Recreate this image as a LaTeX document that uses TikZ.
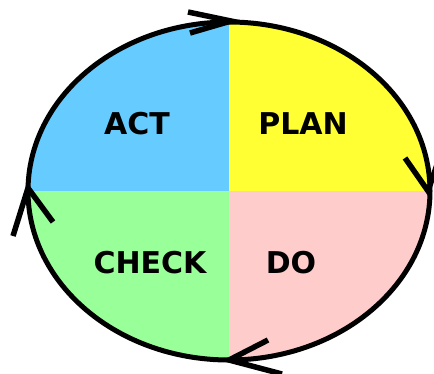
\documentclass[tikz,border=0pt]{standalone}
\usepackage{fontspec}
\setmainfont{DejaVu Sans}
\definecolor{actblue}{HTML}{66CCFF}
\definecolor{planyellow}{HTML}{FFFF33}
\definecolor{checkgreen}{HTML}{99FF99}
\definecolor{dopink}{HTML}{FFCCCC}
\begin{document}
\begin{tikzpicture}[x=1pt,y=-1pt,
  lbl/.style={font=\fontsize{30}{30}\selectfont\bfseries, inner sep=0pt},
  ring/.style={line width=5pt},
  chev/.style={line width=5.5pt, line join=miter, line cap=butt}]
\useasboundingbox (0,0) rectangle (434,373);
\clip (0,0) rectangle (434,373);
\coordinate (c) at (229,191);
\begin{scope}
  \clip (c) ellipse [x radius=201, y radius=169];
  \fill[actblue] (0,0) rectangle (229,191);
  \fill[planyellow] (229,0) rectangle (434,191);
  \fill[checkgreen] (0,191) rectangle (229,373);
  \fill[dopink] (229,191) rectangle (434,373);
\end{scope}
\draw[ring] (c) ellipse [x radius=201, y radius=169];
% arrowheads
\draw[chev] (188,12) -- (231,21) -- (190,33);
\draw[chev] (405,158) -- (428,191) -- (442,150);
\draw[chev] (13,236) -- (28,188) -- (53,222);
\draw[chev] (268,340) -- (229,360) -- (282,374);
% labels
\node[lbl] (act) at (137,124) {ACT};
\node[lbl] (plan) at (303,124) {PLAN};
\node[lbl] (check) at (150,263) {CHECK};
\node[lbl] (do) at (291,263) {DO};
\end{tikzpicture}
\end{document}
